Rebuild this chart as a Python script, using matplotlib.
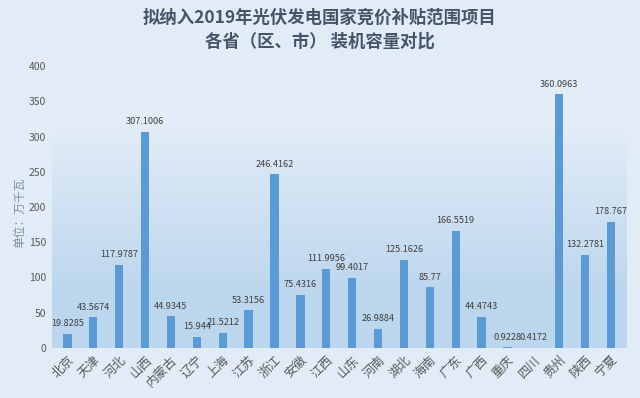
import numpy as np
import matplotlib.pyplot as plt

plt.rcParams['font.family'] = ['Noto Sans CJK SC', 'DejaVu Sans']

provinces = ['北京', '天津', '河北', '山西', '内蒙古', '辽宁', '上海', '江苏', '浙江', '安徽', '江西',
             '山东', '河南', '湖北', '海南', '广东', '广西', '重庆', '四川', '贵州', '陕西', '宁夏']
capacity = [19.8285, 43.5674, 117.9787, 307.1006, 44.9345, 15.944, 21.5212, 53.3156, 246.4162,
            75.4316, 111.9956, 99.4017, 26.9884, 125.1626, 85.77, 166.5519, 44.4743, 0.9228,
            0.4172, 360.0963, 132.2781, 178.767]
value_labels = ['19.8285', '43.5674', '117.9787', '307.1006', '44.9345', '15.944', '21.5212',
                '53.3156', '246.4162', '75.4316', '111.9956', '99.4017', '26.9884', '125.1626',
                '85.77', '166.5519', '44.4743', '0.9228', '0.4172', '360.0963', '132.2781', '178.767']
yticks = [0, 50, 100, 150, 200, 250, 300, 350, 400]

fig = plt.figure(figsize=(6.4, 3.98), dpi=100)
fig.patch.set_facecolor('#e1ecf7')
ax = fig.add_axes([0.081, 0.126, 0.898, 0.708])

x = np.arange(len(provinces))

# plot area background: light at top, deeper blue toward the bottom
grad = np.linspace(0, 1, 256).reshape(-1, 1)
top = np.array([0.89, 0.93, 0.97])
bottom = np.array([0.74, 0.84, 0.93])
w = np.clip((grad - 0.2) / 0.6, 0, 1)
img = top * (1 - w[..., None]) + bottom * w[..., None]
ax.imshow(img, extent=[-0.6, len(provinces) - 0.4, 0, 400], aspect='auto', origin='upper', zorder=0)

bars = ax.bar(x, capacity, width=0.32, color='#5b9bd5', zorder=2)

for xi, v, lab in zip(x, capacity, value_labels):
    ax.annotate(lab, (xi, v), xytext=(0, 4), textcoords='offset points',
                ha='center', va='bottom', fontsize=6.6, color='#404040', zorder=3)

ax.set_xlim(-0.6, len(provinces) - 0.4)
ax.set_ylim(0, 400)
ax.set_yticks(yticks)
ax.set_xticks(x)
ax.set_xticklabels(provinces, rotation=45, ha='right', rotation_mode='anchor',
                   fontsize=9, color='#595959')
ax.tick_params(axis='y', labelsize=7.5, colors='#595959', length=0, pad=4)
ax.tick_params(axis='x', length=0, pad=4)
for s in ax.spines.values():
    s.set_visible(False)

fig.text(0.031, 0.465, '单位：万千瓦', rotation=90, ha='center', va='center',
         fontsize=8.5, color='#7f8fa0')

fig.text(0.5, 0.955, '拟纳入2019年光伏发电国家竞价补贴范围项目', ha='center', va='center',
         fontsize=12.5, fontweight='bold', color='#44546a')
fig.text(0.5, 0.895, '各省（区、市） 装机容量对比', ha='center', va='center',
         fontsize=12.5, fontweight='bold', color='#44546a')

fig.savefig('out.png', dpi=100, facecolor=fig.get_facecolor())
